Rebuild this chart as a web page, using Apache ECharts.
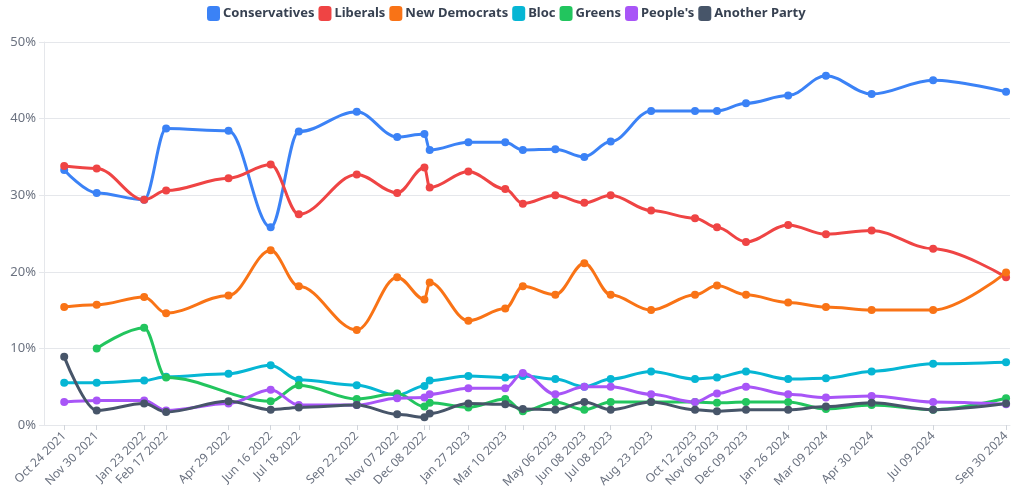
<!DOCTYPE html>
<html>
<head>
<meta charset="utf-8">
<script src="https://cdn.jsdelivr.net/npm/echarts@6/dist/echarts.min.js"></script>
<style>html,body{margin:0;padding:0;background:#fff}#c{width:1020px;height:497px}</style>
</head>
<body>
<div id="c"></div>
<script>
const dates = ['2021-10-24','2021-11-30','2022-01-23','2022-02-17','2022-04-29','2022-06-16','2022-07-18','2022-09-22','2022-11-07','2022-12-08','2022-12-14','2023-01-27','2023-03-10','2023-03-30','2023-05-06','2023-06-08','2023-07-08','2023-08-23','2023-10-12','2023-11-06','2023-12-09','2024-01-26','2024-03-09','2024-04-30','2024-07-09','2024-09-30'];
const labeledDates = ['2021-10-24','2021-11-30','2022-01-23','2022-02-17','2022-04-29','2022-06-16','2022-07-18','2022-09-22','2022-11-07','2022-12-08','2023-01-27','2023-03-10','2023-05-06','2023-06-08','2023-07-08','2023-08-23','2023-10-12','2023-11-06','2023-12-09','2024-01-26','2024-03-09','2024-04-30','2024-07-09','2024-09-30'];
const seriesNames = ['Conservatives','Liberals','New Democrats','Bloc','Greens',"People's",'Another Party'];
const conservatives = [33.3,30.3,29.4,38.7,38.4,25.8,38.3,40.9,37.6,38.0,35.9,36.9,36.9,35.9,36.0,35.0,37.0,41.0,41.0,41.0,42.0,43.0,45.6,43.2,45.0,43.5];
const liberals = [33.8,33.5,29.4,30.6,32.2,34.0,27.5,32.7,30.3,33.6,31.0,33.1,30.8,28.9,30.0,29.0,30.0,28.0,27.0,25.8,23.9,26.1,24.9,25.4,23.0,19.3];
const newDemocrats = [15.4,15.7,16.7,14.6,16.9,22.8,18.1,12.4,19.3,16.4,18.6,13.6,15.2,18.1,17.0,21.1,17.0,15.0,17.0,18.2,17.0,16.0,15.4,15.0,15.0,19.9];
const bloc = [5.5,5.5,5.8,6.3,6.7,7.8,5.9,5.2,3.9,5.1,5.8,6.4,6.2,6.4,6.0,5.0,6.0,7.0,6.0,6.2,7.0,6.0,6.1,7.0,8.0,8.2];
const greens = [null,10.0,12.7,6.2,null,3.1,5.2,3.4,4.1,2.4,2.9,2.3,3.4,1.8,3.0,2.0,3.0,3.0,3.0,2.9,3.0,3.0,2.1,2.6,2.0,3.5];
const peoples = [3.0,3.2,3.2,1.9,2.8,4.6,2.6,2.6,3.5,3.6,4.0,4.8,4.8,6.8,4.0,5.0,5.0,4.0,3.0,4.1,5.0,4.0,3.6,3.8,3.0,2.7];
const another = [8.9,1.9,2.8,1.7,3.1,2.0,2.3,2.6,1.4,1.0,1.5,2.8,2.7,2.1,2.0,3.0,2.0,3.0,2.0,1.8,2.0,2.0,2.4,2.9,2.0,2.8];
const colors = ['#3b82f6','#ef4444','#f97316','#06b6d4','#22c55e','#a855f7','#475569'];

const DAY = 86400000;
const ts = d => { const [y,m,dd] = d.split('-').map(Number); return Date.UTC(y, m-1, dd); };
const tsDates = dates.map(ts);
const tsLabeled = labeledDates.map(ts);
const MONTHS = ['Jan','Feb','Mar','Apr','May','Jun','Jul','Aug','Sep','Oct','Nov','Dec'];
const fmt = v => { const d = new Date(v); return MONTHS[d.getUTCMonth()] + ' ' + String(d.getUTCDate()).padStart(2,'0') + ' ' + d.getUTCFullYear(); };

const allValues = [conservatives, liberals, newDemocrats, bloc, greens, peoples, another];
const series = seriesNames.map((name, i) => ({
  name, type: 'line', smooth: 0.35, smoothMonotone: 'x', connectNulls: true,
  symbol: 'circle', symbolSize: 8, showSymbol: true,
  lineStyle: { width: 3, color: colors[i] },
  itemStyle: { color: colors[i] },
  data: tsDates.map((t, k) => [t, allValues[i][k]])
}));

const chart = echarts.init(document.getElementById('c'), null, { renderer: 'canvas' });
chart.setOption({
  animation: false,
  color: colors,
  legend: {
    top: 1, left: 202, itemWidth: 13, itemHeight: 15, itemGap: 4,
    icon: 'roundRect',
    textStyle: { fontFamily: 'Noto Sans', fontWeight: 'bold', fontSize: 13, color: '#374151', padding: [0,0,0,-2] },
    data: seriesNames
  },
  grid: { left: 44, right: 10, top: 42, bottom: 72, containLabel: false, outerBoundsMode: 'none' },
  xAxis: {
    type: 'value', min: tsDates[0] - 23 * DAY, max: tsDates[tsDates.length-1] + 4.5 * DAY,
    axisLine: { show: true, lineStyle: { color: '#e5e7eb' } },
    axisTick: { show: true, length: 5, customValues: tsDates, lineStyle: { color: '#d1d5db' } },
    axisLabel: { customValues: tsLabeled, rotate: 45, formatter: fmt, color: '#6b7280', fontSize: 12, fontFamily: 'Noto Sans', margin: 9 },
    splitLine: { show: false }
  },
  yAxis: {
    type: 'value', min: 0, max: 50, interval: 10,
    axisLine: { show: true, lineStyle: { color: '#e5e7eb' } },
    axisTick: { show: true, length: 5, lineStyle: { color: '#e5e7eb' } },
    axisLabel: { formatter: '{value}%', color: '#6b7280', fontSize: 13, fontFamily: 'Noto Sans', margin: 8 },
    splitLine: { lineStyle: { color: '#e5e7eb' } }
  },
  series
});
</script>
</body>
</html>
